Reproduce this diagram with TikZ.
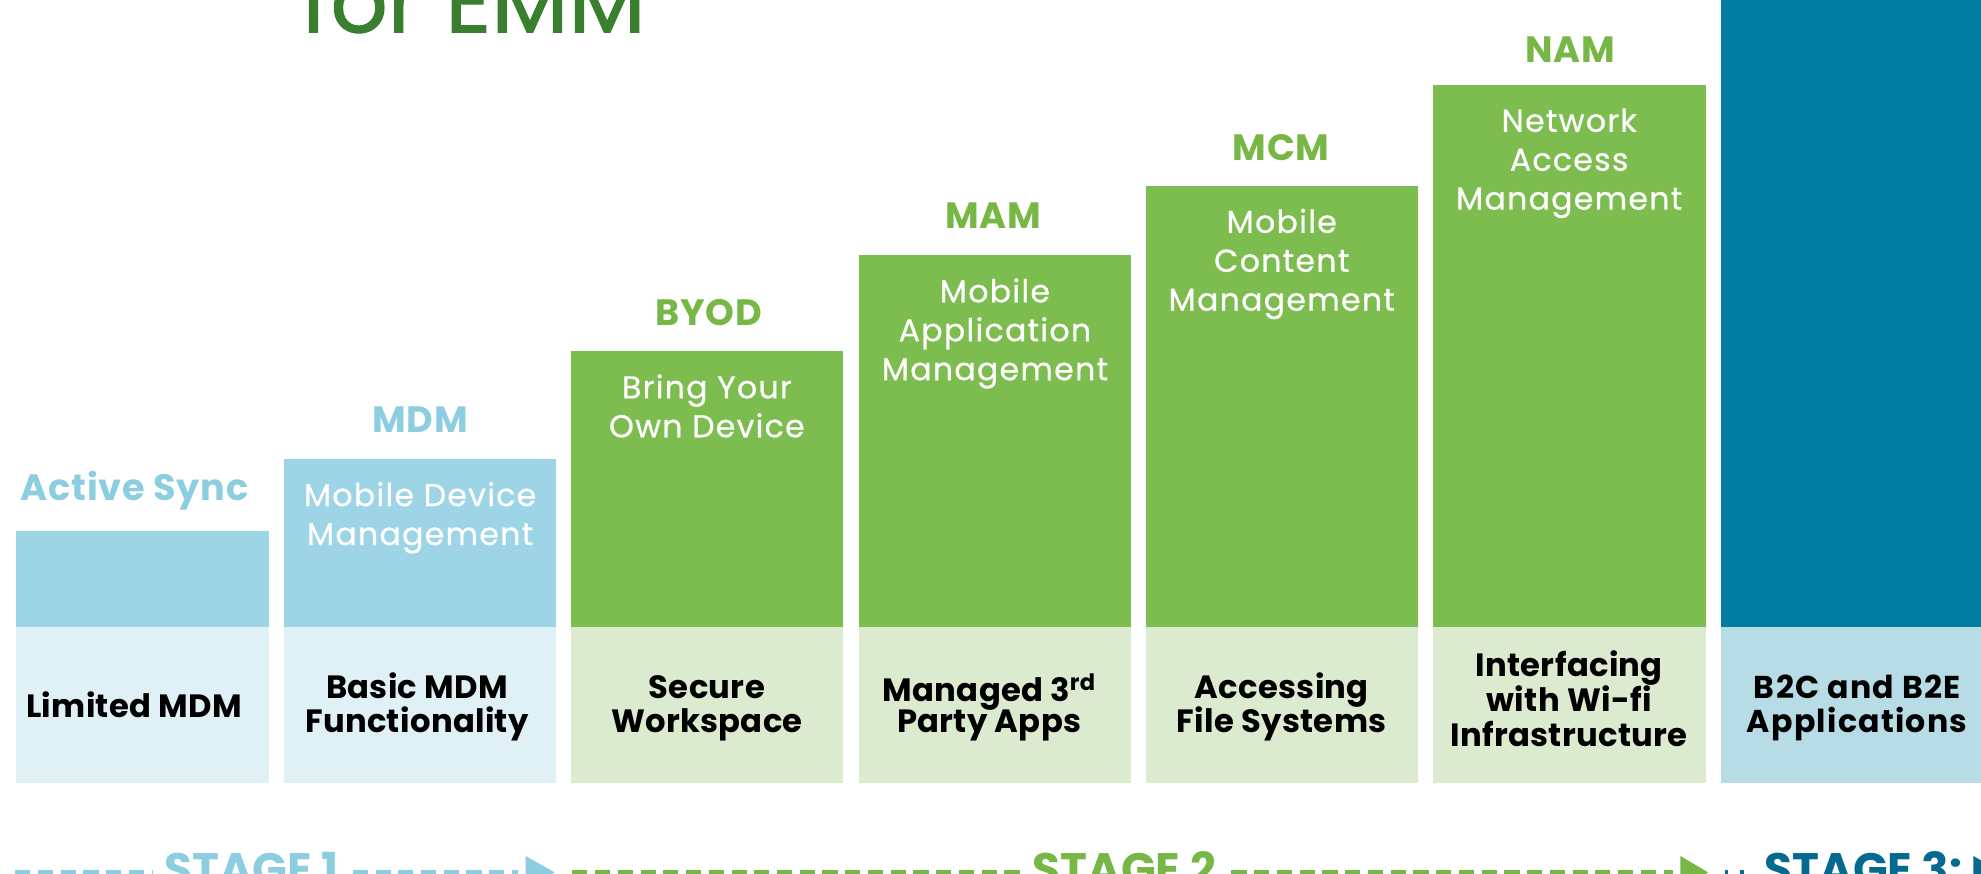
\documentclass[tikz,border=0pt]{standalone}
\usepackage{fontspec}
\setmainfont{Poppins}
\definecolor{skyA}{HTML}{9DD4E6}
\definecolor{skyB}{HTML}{E0F1F6}
\definecolor{skyT}{HTML}{8DCDE0}
\definecolor{grnA}{HTML}{7DBC4F}
\definecolor{grnB}{HTML}{DCEBCF}
\definecolor{grnT}{HTML}{76B745}
\definecolor{tealA}{HTML}{017DA2}
\definecolor{tealB}{HTML}{B8DCE6}
\definecolor{tealT}{HTML}{06698F}
\definecolor{titleG}{HTML}{3A7E30}
\begin{document}
\begin{tikzpicture}[x=1pt,y=-1pt,
  toplab/.style={font=\fontsize{29}{29}\selectfont\bfseries\addfontfeatures{LetterSpace=2}, anchor=base, inner sep=0pt},
  wtxt/.style={font=\fontsize{25}{31}\selectfont\addfontfeatures{LetterSpace=4,FakeBold=0.6}, text=white, anchor=base, inner sep=0pt},
  btxt/.style={font=\fontsize{25.5}{27.5}\selectfont\bfseries\addfontfeatures{LetterSpace=1}, text=black, anchor=base, inner sep=0pt},
  wide/.style={font=\fontsize{25}{27.5}\selectfont\bfseries\addfontfeatures{LetterSpace=4}},
  stagetxt/.style={font=\fontsize{36}{36}\selectfont\bfseries, anchor=base, inner sep=0pt},
  stageline/.style={line width=4pt, dash pattern=on 12pt off 6pt},
  shortline/.style={line width=4pt, dash pattern=on 3pt off 9pt}
]
\useasboundingbox (0,0) rectangle (1568,691);

% title
\node[font=\fontsize{71}{71}\selectfont\addfontfeatures{FakeBold=1.2}, text=titleG, anchor=base west, inner sep=0pt] (title) at (238,25.6) {for EMM};

% column 1
\fill[skyA] (13,420) rectangle (213,496);
\fill[skyB] (13,496) rectangle (213,620);
\node[toplab, text=skyT] (lab1) at (106.5,396) {Active Sync};
\node[btxt] (low1) at (106,568) {Limited MDM};

% column 2
\fill[skyA] (225,363) rectangle (440,496);
\fill[skyB] (225,496) rectangle (440,620);
\node[toplab, text=skyT] (lab2) at (332.5,342) {MDM};
\node[wtxt] (up2a) at (332.5,400.6) {Mobile Device};
\node[wtxt] (up2b) at (332.5,431.4) {Management};
\node[btxt] (low2a) at (330,552.5) {Basic MDM};
\node[btxt] (low2b) at (330,580) {Functionality};

% column 3
\fill[grnA] (452,278) rectangle (667,496);
\fill[grnB] (452,496) rectangle (667,620);
\node[toplab, text=grnT] (lab3) at (561,258) {BYOD};
\node[wtxt] (up3a) at (559.5,315.3) {Bring Your};
\node[wtxt] (up3b) at (559.5,346.1) {Own Device};
\node[btxt] (low3a) at (559.5,552.5) {Secure};
\node[btxt] (low3b) at (559.5,580) {Workspace};

% column 4
\fill[grnA] (680,202) rectangle (895,496);
\fill[grnB] (680,496) rectangle (895,620);
\node[toplab, text=grnT] (lab4) at (786,181) {MAM};
\node[wtxt] (up4a) at (787.5,239.3) {Mobile};
\node[wtxt] (up4b) at (787.5,270.1) {Application};
\node[wtxt] (up4c) at (787.5,300.9) {Management};
\node[btxt] (low4a) at (783,555.4) {Managed 3\textsuperscript{rd}};
\node[btxt] (low4b) at (783,580) {Party Apps};

% column 5
\fill[grnA] (907,147) rectangle (1122,496);
\fill[grnB] (907,496) rectangle (1122,620);
\node[toplab, text=grnT] (lab5) at (1014,127) {MCM};
\node[wtxt] (up5a) at (1014.5,184.3) {Mobile};
\node[wtxt] (up5b) at (1014.5,215.1) {Content};
\node[wtxt] (up5c) at (1014.5,245.9) {Management};
\node[btxt] (low5a) at (1014.5,552.5) {Accessing};
\node[btxt] (low5b) at (1014.5,580) {File Systems};

% column 6
\fill[grnA] (1134,67.3) rectangle (1350,496);
\fill[grnB] (1134,496) rectangle (1350,620);
\node[toplab, text=grnT] (lab6) at (1243,49.6) {NAM};
\node[wtxt] (up6a) at (1242,104.3) {Network};
\node[wtxt] (up6b) at (1242,135.1) {Access};
\node[wtxt] (up6c) at (1242,165.9) {Management};
\node[btxt] (low6a) at (1242,535.6) {Interfacing};
\node[btxt] (low6b) at (1242,563.3) {with Wi-fi};
\node[btxt] (low6c) at (1242,591) {Infrastructure};

% column 7
\fill[tealA] (1362,-5) rectangle (1580,496);
\fill[tealB] (1362,496) rectangle (1580,620);
\node[btxt, wide] (low7a) at (1470,552.5) {B2C and B2E};
\node[btxt, wide] (low7b) at (1470,580) {Applications};

% stage 1
\coordinate (s1a) at (12,690.5);
\coordinate (s1b) at (410,690.5);
\node[stagetxt, text=skyT] (st1) at (199,701) {STAGE 1};
\coordinate (tri1) at (416,690.5);
\draw[stageline, skyT] (s1a) -- ([xshift=-9pt]st1.west |- s1a);
\draw[stageline, skyT] ([xshift=11pt]st1.east |- s1b) -- (s1b);
\fill[skyT] (tri1) ++(0,-13) -- ++(23,13) -- ++(-23,13) -- cycle;

% stage 2
\coordinate (s2a) at (453,690.5);
\coordinate (s2b) at (1324,690.5);
\node[stagetxt, text=grnT] (st2) at (890,701) {STAGE 2};
\coordinate (tri2) at (1330,690.5);
\draw[stageline, grnT] (s2a) -- ([xshift=-10pt]st2.west |- s2a);
\draw[stageline, grnT] ([xshift=12pt]st2.east |- s2b) -- (s2b);
\fill[grnT] (tri2) ++(0,-13) -- ++(22,13) -- ++(-22,13) -- cycle;

% stage 3
\coordinate (s3a) at (1365,690.5);
\node[stagetxt, text=tealT] (st3) at (1475,701) {STAGE 3:};
\coordinate (tri3) at (1562,690.5);
\draw[shortline, tealT] (s3a) -- ([xshift=-8pt]st3.west |- s3a);
\fill[tealT] (tri3) ++(0,-13) -- ++(22,13) -- ++(-22,13) -- cycle;
\end{tikzpicture}
\end{document}
